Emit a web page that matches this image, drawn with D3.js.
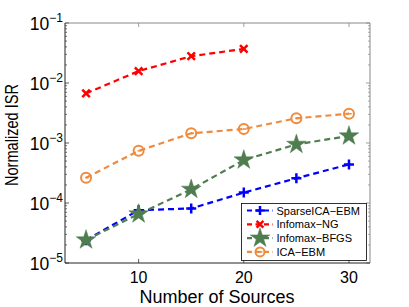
<!DOCTYPE html>
<html>
<head>
<meta charset="utf-8">
<script src="https://cdn.jsdelivr.net/npm/d3@7"></script>
<style>
  body { margin: 0; background: #fff; }
  svg { font-family: "Liberation Sans", Arial, sans-serif; }
</style>
</head>
<body>
<script>
const sources = [5, 10, 15, 20, 25, 30];
const sparseIcaEbm = [2.4e-5, 7.6e-5, 8.1e-5, 1.49e-4, 2.58e-4, 4.4e-4];
const infomaxNg = [6.7e-3, 1.58e-2, 2.8e-2, 3.7e-2];
const infomaxBfgs = [2.42e-5, 6.56e-5, 1.69e-4, 5.2e-4, 9.5e-4, 1.31e-3];
const icaEbm = [2.64e-4, 7.4e-4, 1.45e-3, 1.71e-3, 2.58e-3, 3.08e-3];
const seriesNames = ["SparseICA\u2212EBM", "Infomax\u2212NG", "Infomax\u2212BFGS", "ICA\u2212EBM"];
const xTicks = [10, 20, 30];
const yExps = [-1, -2, -3, -4, -5];

const W = 409, H = 307;
const m = {left: 65, right: 39, top: 23, bottom: 44};

const svg = d3.select("body").append("svg")
    .attr("width", W).attr("height", H);

const x = d3.scaleLinear().domain([3, 32]).range([m.left, W - m.right]);
const y = d3.scaleLog().domain([1e-5, 1e-1]).range([H - m.bottom, m.top]);

const series = [
  {name: seriesNames[0], values: sparseIcaEbm, color: "#0000ff", marker: "plus"},
  {name: seriesNames[1], values: infomaxNg, color: "#ff0000", marker: "cross"},
  {name: seriesNames[2], values: infomaxBfgs, color: "#4f7d4f", marker: "star"},
  {name: seriesNames[3], values: icaEbm, color: "#f08a3c", marker: "circle"}
];

// frame, ticks, labels
const x0 = m.left, x1 = W - m.right, y0 = m.top, y1 = H - m.bottom;
const g = svg.append("g");

const minor = [];
for (let e = -5; e < -1; e++) {
  for (let k = 2; k <= 9; k++) minor.push(k * Math.pow(10, e));
}
minor.forEach(v => {
  g.append("line").attr("x1", x0).attr("x2", x0 + 2).attr("y1", y(v)).attr("y2", y(v)).attr("stroke", "#333").attr("stroke-width", 0.7);
  g.append("line").attr("x1", x1).attr("x2", x1 - 2).attr("y1", y(v)).attr("y2", y(v)).attr("stroke", "#888").attr("stroke-width", 0.7);
});
yExps.forEach(e => {
  const v = Math.pow(10, e);
  g.append("line").attr("x1", x0).attr("x2", x0 + 4).attr("y1", y(v)).attr("y2", y(v)).attr("stroke", "#333").attr("stroke-width", 0.8);
  g.append("line").attr("x1", x1).attr("x2", x1 - 4).attr("y1", y(v)).attr("y2", y(v)).attr("stroke", "#888").attr("stroke-width", 0.8);
  const t = g.append("text").attr("x", 63).attr("y", y(v) + 7).attr("text-anchor", "end").attr("font-size", 17.5).attr("fill", "#000");
  t.append("tspan").text("10");
  t.append("tspan").attr("dy", -8).attr("font-size", 12).text("\u2212" + Math.abs(e));
});
xTicks.forEach(v => {
  g.append("line").attr("x1", x(v)).attr("x2", x(v)).attr("y1", y1).attr("y2", y1 - 4).attr("stroke", "#333").attr("stroke-width", 0.8);
  g.append("line").attr("x1", x(v)).attr("x2", x(v)).attr("y1", y0).attr("y2", y0 + 4).attr("stroke", "#888").attr("stroke-width", 0.8);
  g.append("text").attr("x", x(v)).attr("y", 283).attr("text-anchor", "middle").attr("font-size", 16).text(v);
});

g.append("line").attr("x1", x0).attr("x2", x1).attr("y1", y0).attr("y2", y0).attr("stroke", "#888");
g.append("line").attr("x1", x1).attr("x2", x1).attr("y1", y0).attr("y2", y1).attr("stroke", "#888");
g.append("line").attr("x1", x0).attr("x2", x0).attr("y1", y0).attr("y2", y1).attr("stroke", "#222");
g.append("line").attr("x1", x0).attr("x2", x1).attr("y1", y1).attr("y2", y1).attr("stroke", "#222");

svg.append("text").attr("x", 217).attr("y", 302.5).attr("text-anchor", "middle").attr("font-size", 18).text("Number of Sources");
svg.append("text").attr("transform", "translate(18,135) rotate(-90)").attr("text-anchor", "middle")
    .attr("font-size", 18).attr("textLength", 102).attr("lengthAdjust", "spacingAndGlyphs").text("Normalized ISR");

function drawMarker(sel, type, color, s) {
  if (type === "plus") {
    sel.append("path").attr("d", `M${-s},0H${s}M0,${-s}V${s}`).attr("stroke", color).attr("stroke-width", 2.5).attr("fill", "none");
  } else if (type === "cross") {
    sel.append("path").attr("d", `M${-s*0.75},${-s*0.75}L${s*0.75},${s*0.75}M${-s*0.75},${s*0.75}L${s*0.75},${-s*0.75}`).attr("stroke", color).attr("stroke-width", 2.5).attr("fill", "none");
  } else if (type === "star") {
    sel.append("path").attr("d", d3.symbol(d3.symbolStar, s * s * 3.3)()).attr("fill", color).attr("stroke", color).attr("stroke-width", 0.5);
  } else {
    sel.append("circle").attr("r", s).attr("fill", "none").attr("stroke", color).attr("stroke-width", 2);
    sel.append("line").attr("x1", -s * 0.2).attr("x2", s * 0.55).attr("y1", 0).attr("y2", 0).attr("stroke", color).attr("stroke-width", 1.5);
  }
}

const line = d3.line().x(d => x(d[0])).y(d => y(d[1]));
const drawOrder = [3, 1, 0, 2];
drawOrder.forEach(i => {
  const s = series[i];
  const pts = s.values.map((v, j) => [sources[j], v]);
  svg.append("path").datum(pts).attr("d", line).attr("fill", "none")
      .attr("stroke", s.color).attr("stroke-width", 2.2).attr("stroke-dasharray", "6,4");
});
drawOrder.forEach(i => {
  const s = series[i];
  s.values.forEach((v, j) => {
    const mg = svg.append("g").attr("transform", `translate(${x(sources[j])},${y(v)})`);
    drawMarker(mg, s.marker, s.color, s.marker === "star" ? 6 : 5);
  });
});

// legend
const lg = svg.append("g");
lg.append("rect").attr("x", 241.5).attr("y", 203.5).attr("width", 125).attr("height", 57)
    .attr("fill", "#fff").attr("stroke", "#000").attr("stroke-width", 0.8);
series.forEach((s, i) => {
  const ly = 210.5 + i * 13.8;
  lg.append("line").attr("x1", 247).attr("x2", 273).attr("y1", ly).attr("y2", ly)
      .attr("stroke", s.color).attr("stroke-width", 2.2).attr("stroke-dasharray", "5,3.5");
  const mg = lg.append("g").attr("transform", `translate(260,${ly})`);
  drawMarker(mg, s.marker, s.color, s.marker === "star" ? 6 : 4.5);
  lg.append("text").attr("x", 276.5).attr("y", ly + 4).attr("font-size", 11).text(s.name);
});
</script>
</body>
</html>
